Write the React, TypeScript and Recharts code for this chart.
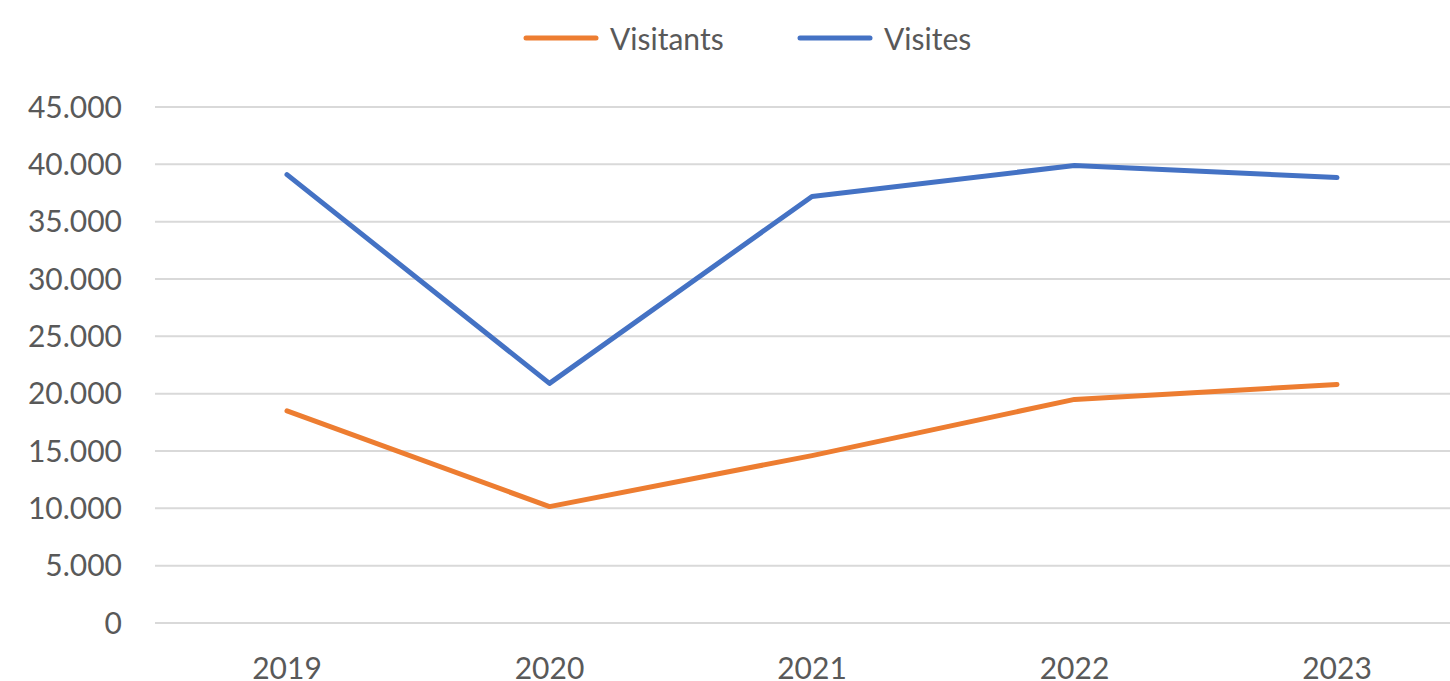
import { LineChart, Line, XAxis, YAxis, CartesianGrid, Legend } from "recharts";

const years = ["2019", "2020", "2021", "2022", "2023"];
const visitants = [18500, 10150, 14600, 19500, 20800];
const visites = [39100, 20900, 37200, 39900, 38850];
const yTicks = [0, 5000, 10000, 15000, 20000, 25000, 30000, 35000, 40000, 45000];

const ORANGE = "#ED7D31";
const BLUE = "#4472C4";
const TEXT = "#595959";
const FONT = "Lato, 'Open Sans', sans-serif";

const data = years.map((year, i) => ({
  year,
  Visitants: visitants[i],
  Visites: visites[i],
}));

// Spanish/Catalan style thousands separator: 45.000
const fmt = (v: number) => (v === 0 ? "0" : v.toLocaleString("de-DE"));

// legend drawn by hand so it sits where the original one does
function LegendContent() {
  const items = [
    { name: "Visitants", color: ORANGE, left: 523 },
    { name: "Visites", color: BLUE, left: 797 },
  ];
  return (
    <div style={{ position: "relative", width: 1450, height: 40 }}>
      {items.map((it) => (
        <div
          key={it.name}
          style={{ position: "absolute", left: it.left, top: 0, display: "flex", alignItems: "center" }}
        >
          <svg width={76} height={40}>
            <line x1={3} y1={20} x2={73} y2={20} stroke={it.color} strokeWidth={5} strokeLinecap="round" />
          </svg>
          <span style={{ marginLeft: 11, fontSize: 30, color: TEXT, fontFamily: FONT, lineHeight: "40px" }}>
            {it.name}
          </span>
        </div>
      ))}
    </div>
  );
}

export default function App() {
  return (
    <div style={{ position: "absolute", left: 0, top: 0, width: 1450, height: 681, overflow: "hidden", background: "#fff" }}>
      <LineChart
        width={1470}
        height={681}
        data={data}
        // legend box (40px) is added on top of this by recharts
        margin={{ top: 67, right: 1, bottom: 0, left: 0 }}
      >
        <CartesianGrid vertical={false} stroke="#D9D9D9" strokeWidth={2} />
        <XAxis
          dataKey="year"
          axisLine={false}
          tickLine={false}
          tickSize={0}
          tickMargin={35}
          height={58}
          padding={{ left: 132, right: 132 }}
          tick={{ fill: TEXT, fontSize: 30, fontFamily: FONT }}
        />
        <YAxis
          domain={[0, 45000]}
          ticks={yTicks}
          tickFormatter={fmt}
          axisLine={false}
          tickLine={false}
          tickSize={0}
          tickMargin={33}
          width={155}
          tick={{ fill: TEXT, fontSize: 30, fontFamily: FONT }}
        />
        <Legend
          verticalAlign="top"
          content={() => <LegendContent />}
          wrapperStyle={{ top: 18, left: 0, width: 1450 }}
        />
        <Line
          dataKey="Visitants"
          stroke={ORANGE}
          strokeWidth={5}
          dot={false}
          activeDot={false}
          strokeLinecap="round"
          strokeLinejoin="round"
          isAnimationActive={false}
        />
        <Line
          dataKey="Visites"
          stroke={BLUE}
          strokeWidth={5}
          dot={false}
          activeDot={false}
          strokeLinecap="round"
          strokeLinejoin="round"
          isAnimationActive={false}
        />
      </LineChart>
    </div>
  );
}
